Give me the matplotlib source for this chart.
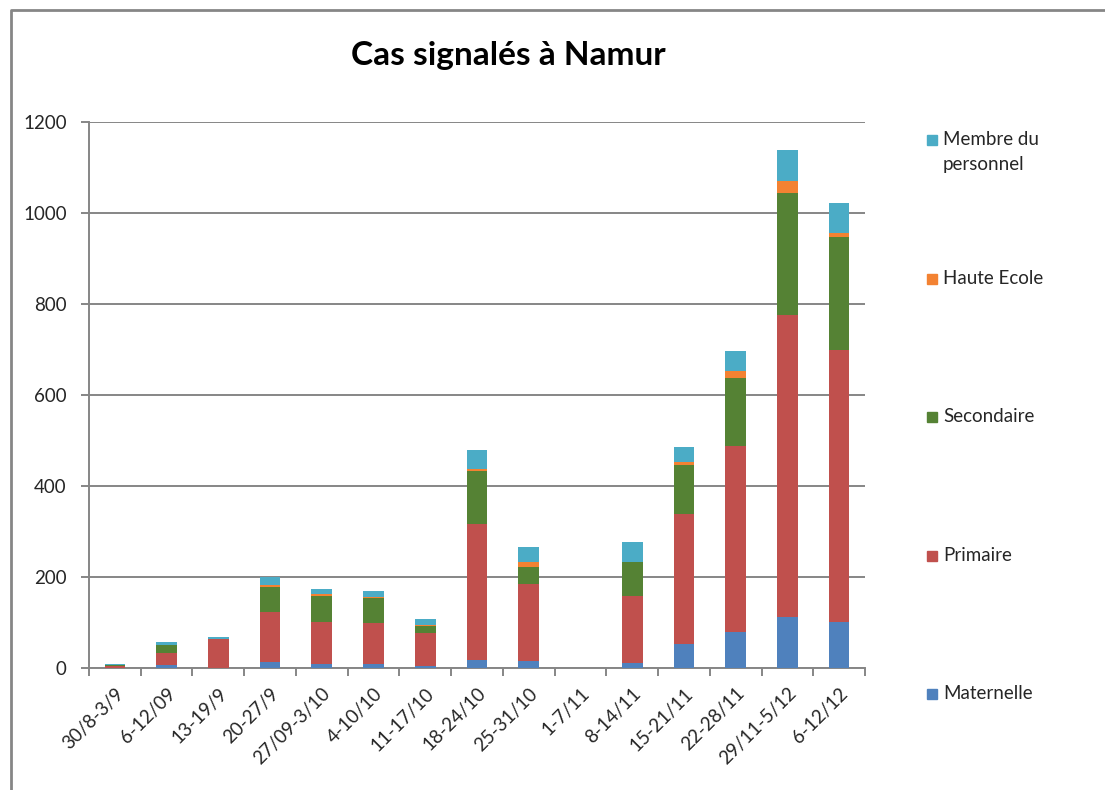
import numpy as np
import matplotlib
matplotlib.use('Agg')
import matplotlib.pyplot as plt
from matplotlib.patches import Rectangle
from matplotlib.lines import Line2D

plt.rcParams['font.family'] = ['Lato', 'DejaVu Sans']

# data
weeks = ['30/8-3/9', '6-12/09', '13-19/9', '20-27/9', '27/09-3/10', '4-10/10',
         '11-17/10', '18-24/10', '25-31/10', '1-7/11', '8-14/11', '15-21/11',
         '22-28/11', '29/11-5/12', '6-12/12']
maternelle = [1, 7, 0, 14, 9, 8, 5, 18, 15, 0, 12, 53, 79, 112, 102]
primaire   = [4, 26, 64, 110, 92, 92, 73, 298, 170, 0, 147, 286, 410, 663, 596]
secondaire = [2, 18, 0, 53, 58, 54, 15, 116, 37, 0, 73, 107, 148, 269, 249]
haute_ecole = [0, 0, 0, 5, 3, 3, 2, 5, 12, 0, 2, 6, 16, 27, 10]
membre     = [2, 7, 5, 18, 12, 12, 13, 42, 31, 0, 44, 34, 43, 68, 64]

series = [
    ('Maternelle', maternelle, '#4F81BD'),
    ('Primaire', primaire, '#C0504D'),
    ('Secondaire', secondaire, '#558234'),
    ('Haute Ecole', haute_ecole, '#F38232'),
    ('Membre du\npersonnel', membre, '#4BACC6'),
]

W, H = 1105, 790
fig = plt.figure(figsize=(W / 100, H / 100), dpi=100)
ax = fig.add_axes([89 / W, 1 - 668 / H, (865 - 89) / W, (668 - 122) / H])

x = np.arange(len(weeks))
bottom = np.zeros(len(weeks))
for name, vals, col in series:
    ax.bar(x, vals, width=0.4, bottom=bottom, color=col, zorder=3)
    bottom += np.array(vals)

grey = '#868686'
txt = '#262626'
fs = 13.5
ax.set_xlim(-0.5, len(weeks) - 0.5)
ax.set_ylim(0, 1200)
ax.set_yticks(range(0, 1201, 200))
ax.grid(axis='y', color=grey, linewidth=1.4, zorder=0)
for s in ['top', 'right']:
    ax.spines[s].set_visible(False)
for s in ['left', 'bottom']:
    ax.spines[s].set_color(grey)
    ax.spines[s].set_linewidth(1.4)

ax.set_xticks(x)
ax.set_xticklabels(weeks, rotation=45, ha='right', va='top',
                   rotation_mode='anchor', fontsize=fs, color=txt)
ax.set_xticks(np.arange(-0.5, len(weeks)), minor=True)
ax.tick_params(axis='x', which='major', length=0, pad=12)
ax.tick_params(axis='x', which='minor', length=6, width=1.4, color=grey)
ax.tick_params(axis='y', length=6, width=1.4, color=grey, labelsize=fs,
               labelcolor=txt, pad=10)

fig.text(508 / W, 1 - 56 / H, 'Cas signalés à Namur', ha='center', va='center',
         fontsize=24, fontweight='bold', color='black')

# legend, top to bottom in reverse stacking order
leg_y = [140, 279, 417, 556, 694]
for (name, vals, col), yy in zip(series[::-1], leg_y):
    fig.add_artist(Rectangle((927 / W, 1 - (yy + 5) / H), 10 / W, 10 / H,
                             transform=fig.transFigure, color=col))
    fig.text(943 / W, 1 - (yy - 9) / H, name, ha='left', va='top',
             fontsize=fs, color=txt, linespacing=1.6)

# outer frame (left and top edges)
fig.add_artist(Line2D([11 / W, 11 / W, 1], [0, 1 - 10 / H, 1 - 10 / H],
                      transform=fig.transFigure, color=grey, linewidth=2))

fig.savefig('out.png', dpi=100)
